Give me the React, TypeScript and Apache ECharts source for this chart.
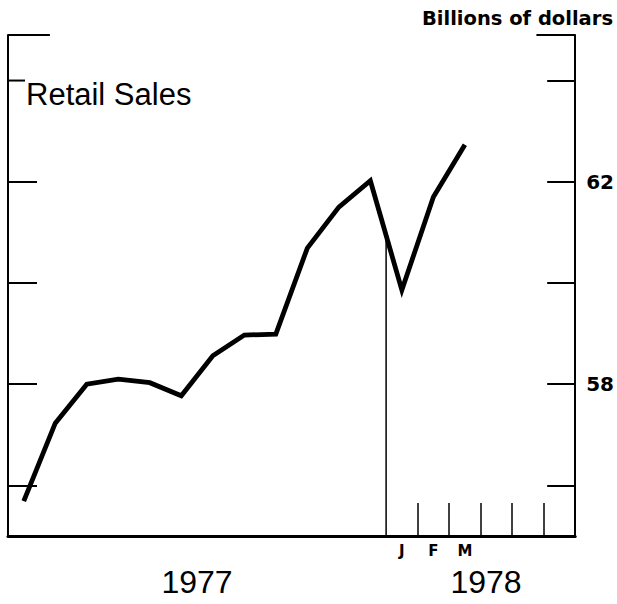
import React, { useEffect, useRef } from "react";
import * as echarts from "echarts";

// Monthly retail sales, Jan 1977 – Mar 1978 (billions of dollars)
const MONTHS = [
  "1977-01", "1977-02", "1977-03", "1977-04", "1977-05", "1977-06",
  "1977-07", "1977-08", "1977-09", "1977-10", "1977-11", "1977-12",
  "1978-01", "1978-02", "1978-03",
];
const SALES = [
  55.69, 57.23, 58.0, 58.1, 58.03, 57.77,
  58.56, 58.97, 58.99, 60.69, 61.5, 62.02,
  59.86, 61.7, 62.73,
];
const LABELS_1978 = ["J", "F", "M"];
const Y_TICKS = [56, 58, 60, 62, 64];
const Y_LABELS = [58, 62];
const Y_MIN = 55;
const Y_MAX = 64.9;
const X_SLOTS = 18; // Jan 1977 .. Jun 1978
const YEAR_BREAK = 12;
const MONTH_TICKS_1978 = [13, 14, 15, 16, 17];
const YEARS = ["1977", "1978"];

export default function App() {
  const ref = useRef<HTMLDivElement>(null);
  useEffect(() => {
    document.body.style.margin = "0";
    const chart = echarts.init(ref.current!, undefined, { renderer: "svg" });
    const black = "#000";
    const lineData = SALES.map((v, i) => [i + 0.5, v]);
    const breakTop = (SALES[YEAR_BREAK - 1] + SALES[YEAR_BREAK]) / 2;
    const seg = (pts: number[][], w: number) => ({
      type: "line",
      data: pts,
      symbol: "none",
      silent: true,
      lineStyle: { color: black, width: w },
      z: 3,
    });
    chart.setOption({
      animation: false,
      backgroundColor: "#fff",
      grid: { left: 8, right: 40, top: 35, bottom: 68, containLabel: false },
      xAxis: {
        type: "value",
        min: 0,
        max: X_SLOTS,
        interval: 1,
        splitLine: { show: false },
        axisLine: { show: true, onZero: false, lineStyle: { color: black, width: 3 } },
        axisTick: {
          show: true,
          inside: true,
          length: 33,
          customValues: MONTH_TICKS_1978,
          lineStyle: { color: black, width: 1.5 },
        },
        axisLabel: {
          show: true,
          customValues: LABELS_1978.map((_, i) => YEAR_BREAK + i + 0.5),
          formatter: (v: number) => LABELS_1978[Math.floor(v) - YEAR_BREAK] ?? "",
          margin: 15,
          verticalAlign: "middle",
          color: black,
          fontFamily: "DejaVu Sans",
          fontWeight: "bold",
          fontSize: 15,
        },
      },
      yAxis: [
        {
          type: "value",
          position: "right",
          min: Y_MIN,
          max: Y_MAX,
          splitLine: { show: false },
          axisLine: { show: true, onZero: false, lineStyle: { color: black, width: 2 } },
          axisTick: {
            show: true,
            inside: true,
            length: 28,
            customValues: Y_TICKS,
            lineStyle: { color: black, width: 2 },
          },
          axisLabel: {
            show: true,
            customValues: Y_LABELS,
            margin: 11,
            color: black,
            fontFamily: "DejaVu Sans",
            fontWeight: "bold",
            fontSize: 20,
          },
        },
        {
          type: "value",
          position: "left",
          min: Y_MIN,
          max: Y_MAX,
          splitLine: { show: false },
          axisLine: { show: true, onZero: false, lineStyle: { color: black, width: 2 } },
          axisTick: {
            show: true,
            inside: true,
            length: 29,
            customValues: Y_TICKS.filter((t) => t < 64),
            lineStyle: { color: black, width: 2 },
          },
          axisLabel: { show: false },
        },
      ],
      series: [
        {
          name: "Retail Sales",
          type: "line",
          data: lineData,
          symbol: "none",
          lineStyle: { color: black, width: 4.8, join: "miter" },
          z: 5,
        },
        seg([[YEAR_BREAK, Y_MIN], [YEAR_BREAK, breakTop]], 1.5),
        seg([[0, Y_MAX], [1.33, Y_MAX]], 2),
        seg([[16.77, Y_MAX], [X_SLOTS, Y_MAX]], 2),
        seg([[0, 64], [0.54, 64]], 2),
      ],
      graphic: [
        {
          type: "text",
          left: 26,
          top: 79,
          style: {
            text: "Retail Sales",
            fill: black,
            fontFamily: "Liberation Sans",
            fontSize: 31,
          },
        },
        {
          type: "text",
          right: 4,
          top: 8,
          style: {
            text: "Billions of dollars",
            fill: black,
            fontFamily: "DejaVu Sans",
            fontWeight: "bold",
            fontSize: 19.5,
          },
        },
        {
          type: "text",
          x: 197,
          y: 582,
          style: {
            text: YEARS[0],
            fill: black,
            fontFamily: "Liberation Sans",
            fontSize: 32,
            align: "center",
            verticalAlign: "middle",
          },
        },
        {
          type: "text",
          x: 486,
          y: 582,
          style: {
            text: YEARS[1],
            fill: black,
            fontFamily: "Liberation Sans",
            fontSize: 32,
            align: "center",
            verticalAlign: "middle",
          },
        },
      ],
    });
    return () => chart.dispose();
  }, []);
  return <div ref={ref} style={{ width: 617, height: 604 }} />;
}
